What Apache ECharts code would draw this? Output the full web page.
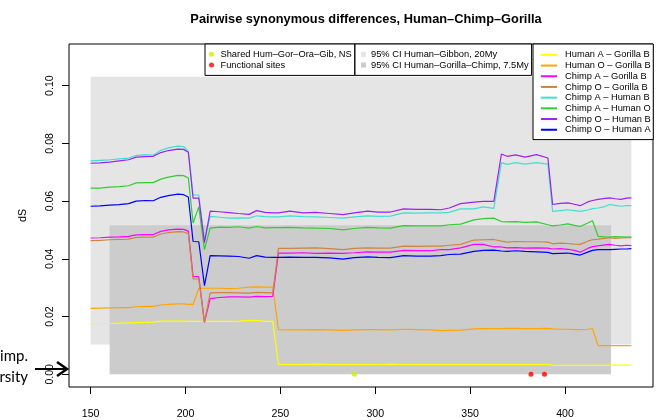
<!DOCTYPE html>
<html><head><meta charset="utf-8">
<script src="https://cdn.jsdelivr.net/npm/echarts@6/dist/echarts.min.js"></script>
<style>html,body{margin:0;padding:0;background:#fff}#c{width:662px;height:420px}</style>
</head><body><div id="c"></div>
<script>
// ---------- data ----------
const xs = [150,155,160,165,170,174,179,183,187,191,196,199,201.5,204,207,210,213,218,223,228,233.5,237.5,242,246,249,255,262,268.5,276,283,289,296,301.5,308,315,322,329,334.5,339,345,352,357,362.5,366.5,369.5,374,379,385,391,393.5,397.5,401.5,405,408,412,414.5,417.5,421,423.5,426.5,429.5,432.5,435];

const humanAGorillaB = [.0175,.0176,.0176,.0177,.0178,.0179,.0180,.0181,.0184,.0184,
  .0184,.0184,.0183,.0183,.0183,.0183,.0183,.0183,.0183,.0184,
  .0187,.0186,.0183,.0184,.0034,.0034,.0034,.0035,.0034,.0034,
  .0034,.0034,.0034,.0035,.0034,.0034,.0034,.0034,.0034,.0034,
  .0034,.0034,.0034,.0034,.0034,.0034,.0034,.0034,.0034,.0032,
  .0031,.0031,.0031,.0031,.0031,.0031,.0031,.0031,.0032,.0032,
  .0032,.0032,.0032];
const humanOGorillaB = [.0228,.0229,.0230,.0231,.0231,.0234,.0235,.0235,.0240,.0242,
  .0244,.0244,.0242,.0242,.0297,.0298,.0298,.0298,.0297,.0298,
  .0302,.0303,.0302,.0302,.0155,.0154,.0154,.0155,.0154,.0152,
  .0154,.0155,.0155,.0154,.0156,.0155,.0154,.0151,.0152,.0153,
  .0157,.0158,.0158,.0158,.0159,.0159,.0158,.0158,.0159,.0157,
  .0156,.0156,.0155,.0155,.0156,.0158,.0099,.0099,.0099,.0099,
  .0099,.0099,.0099];
const chimpAGorillaB = [.0472,.0473,.0475,.0476,.0478,.0483,.0484,.0484,.0495,.0500,
  .0503,.0502,.0496,.0339,.0338,.0180,.0262,.0266,.0268,.0268,
  .0267,.0270,.0269,.0270,.0420,.0420,.0421,.0419,.0420,.0419,
  .0421,.0424,.0423,.0423,.0429,.0428,.0428,.0432,.0432,.0438,
  .0450,.0450,.0441,.0441,.0438,.0439,.0437,.0438,.0437,.0434,
  .0435,.0433,.0429,.0423,.0436,.0442,.0445,.0448,.0450,.0447,
  .0445,.0447,.0446];
const chimpOGorillaB = [.0463,.0464,.0466,.0467,.0468,.0474,.0475,.0475,.0486,.0491,
  .0494,.0493,.0487,.0330,.0330,.0180,.0282,.0283,.0283,.0282,
  .0281,.0284,.0283,.0282,.0436,.0436,.0437,.0438,.0435,.0432,
  .0436,.0438,.0437,.0437,.0444,.0443,.0444,.0444,.0447,.0450,
  .0465,.0466,.0467,.0461,.0458,.0460,.0459,.0459,.0458,.0452,
  .0454,.0453,.0451,.0450,.0461,.0466,.0468,.0471,.0473,.0471,
  .0472,.0473,.0473];
const chimpAHumanB = [.0739,.0741,.0743,.0746,.0749,.0758,.0760,.0759,.0776,.0784,
  .0790,.0789,.0772,.0621,.0621,.0466,.0547,.0544,.0541,.0542,
  .0541,.0549,.0546,.0545,.0545,.0549,.0546,.0545,.0543,.0541,
  .0545,.0549,.0547,.0548,.0559,.0558,.0559,.0559,.0561,.0573,
  .0573,.0580,.0575,.0733,.0727,.0733,.0728,.0733,.0728,.0564,
  .0567,.0570,.0567,.0564,.0569,.0574,.0576,.0581,.0588,.0585,
  .0582,.0584,.0584];
const chimpAHumanO = [.0645,.0645,.0648,.0650,.0653,.0663,.0664,.0664,.0676,.0683,
  .0689,.0688,.0680,.0524,.0580,.0432,.0506,.0510,.0509,.0511,
  .0506,.0512,.0507,.0508,.0508,.0509,.0507,.0506,.0505,.0500,
  .0505,.0509,.0507,.0506,.0515,.0514,.0514,.0514,.0518,.0520,
  .0535,.0539,.0541,.0529,.0528,.0529,.0526,.0528,.0518,.0514,
  .0517,.0521,.0516,.0512,.0524,.0532,.0478,.0476,.0475,.0477,
  .0476,.0475,.0476];
const chimpOHumanB = [.0731,.0732,.0735,.0739,.0743,.0752,.0754,.0755,.0768,.0775,
  .0780,.0779,.0769,.0610,.0610,.0456,.0565,.0563,.0560,.0557,
  .0554,.0567,.0561,.0559,.0559,.0565,.0559,.0561,.0557,.0553,
  .0559,.0565,.0562,.0562,.0573,.0571,.0571,.0570,.0576,.0591,
  .0596,.0599,.0599,.0763,.0755,.0760,.0752,.0761,.0749,.0588,
  .0592,.0594,.0589,.0584,.0597,.0602,.0606,.0609,.0611,.0608,
  .0606,.0610,.0611];
const chimpOHumanA = [.0582,.0583,.0586,.0588,.0591,.0600,.0602,.0601,.0613,.0619,
  .0624,.0622,.0614,.0460,.0459,.0307,.0411,.0410,.0409,.0408,
  .0402,.0411,.0406,.0405,.0405,.0406,.0405,.0405,.0403,.0399,
  .0404,.0407,.0405,.0404,.0411,.0409,.0409,.0411,.0415,.0416,
  .0426,.0429,.0430,.0427,.0426,.0428,.0426,.0424,.0422,.0418,
  .0419,.0420,.0416,.0413,.0423,.0429,.0432,.0432,.0432,.0433,
  .0434,.0434,.0435];

const sharedNS = [[289, 0]];
const functionalSites = [[382.1, 0], [389.2, 0]];
// [xStart, xEnd, yLow, yHigh]
const ciGibbon = [150, 435, 0.0103, 0.1031];
const ciHGC = [160, 424.3, 0, 0.0516];

const xTicks = [150, 200, 250, 300, 350, 400];
const yTicks = [0, 0.02, 0.04, 0.06, 0.08, 0.10];

const lineNames = ['Human A – Gorilla B','Human O – Gorilla B','Chimp A – Gorilla B','Chimp O – Gorilla B',
  'Chimp A – Human B','Chimp A – Human O','Chimp O – Human B','Chimp O – Human A'];
const lineValues = [humanAGorillaB, humanOGorillaB, chimpAGorillaB, chimpOGorillaB,
  chimpAHumanB, chimpAHumanO, chimpOHumanB, chimpOHumanA];
const lineColors = ['#ffff00','#ffa500','#ff00ff','#cd853f','#40e0d0','#32cd32','#a020f0','#0000ff'];

const nsName = 'Shared Hum–Gor–Ora–Gib, NS';
const funcName = 'Functional sites';
const ci1Name = '95% CI Human–Gibbon, 20My';
const ci2Name = '95% CI Human–Gorilla–Chimp, 7.5My';

// ---------- chart ----------
const FONT = "'Liberation Sans', Arial, Helvetica, sans-serif";
const chart = echarts.init(document.getElementById('c'), null, {renderer: 'canvas'});

function rectSeries(name, rect, color, z) {
  return {
    type: 'custom', name: name, z: z, silent: true,
    data: [rect],
    encode: {x: [0, 1], y: [2, 3]},
    renderItem: function (params, api) {
      const p0 = api.coord([api.value(0), api.value(3)]);
      const p1 = api.coord([api.value(1), api.value(2)]);
      return {type: 'rect', shape: {x: p0[0], y: p0[1], width: p1[0] - p0[0], height: p1[1] - p0[1]},
        style: {fill: color}};
    }
  };
}

const series = [
  rectSeries(ci1Name, ciGibbon, '#e5e5e5', 1),
  rectSeries(ci2Name, ciHGC, '#cccccc', 2)
];
lineNames.forEach(function (n, k) {
  series.push({
    type: 'line', name: n, z: 3 + k,
    data: xs.map(function (x, i) { return [x, lineValues[k][i]]; }),
    showSymbol: false, symbol: 'none',
    lineStyle: {color: lineColors[k], width: 1.2},
    itemStyle: {color: lineColors[k]}
  });
});
series.push({type: 'scatter', name: nsName, data: sharedNS, symbolSize: 5, z: 20,
  itemStyle: {color: '#ccf000'}});
series.push({type: 'scatter', name: funcName, data: functionalSites, symbolSize: 5, z: 20,
  itemStyle: {color: '#ff0000'}});

const legText = {fontFamily: FONT, fontSize: 9.3, lineHeight: 10.7, color: '#000'};
const legBase = {orient: 'vertical', itemGap: 0, borderColor: '#000', borderWidth: 1, borderRadius: 0,
  backgroundColor: '#fff', selectedMode: false, z: 30};

const option = {
  animation: false,
  backgroundColor: '#fff',
  title: {
    text: 'Pairwise synonymous differences, Human–Chimp–Gorilla',
    left: 361, top: 8, textAlign: 'center',
    textStyle: {fontFamily: FONT, fontSize: 12.8, fontWeight: 'bold', color: '#000'}
  },
  grid: {left: 69, right: 9, top: 44, bottom: 32.5, show: true, borderColor: '#000', borderWidth: 1,
    backgroundColor: 'transparent'},
  xAxis: {
    type: 'value', min: 138.6, max: 446.4,
    axisLine: {show: false, onZero: false}, splitLine: {show: false},
    axisTick: {show: true, length: 7, lineStyle: {color: '#000'}, customValues: xTicks},
    axisLabel: {customValues: xTicks, margin: 22, fontFamily: FONT, fontSize: 10.6, color: '#000'}
  },
  yAxis: {
    type: 'value', min: -0.0044, max: 0.1144,
    name: 'dS', nameLocation: 'middle', nameGap: 40, nameRotate: 90,
    nameTextStyle: {fontFamily: FONT, fontSize: 10.6, color: '#000'},
    axisLine: {show: false, onZero: false}, splitLine: {show: false},
    axisTick: {show: true, length: 7, lineStyle: {color: '#000'}, customValues: yTicks},
    axisLabel: {customValues: yTicks, rotate: 90, margin: 13.5, fontFamily: FONT, fontSize: 10.6, color: '#000',
      formatter: function (v) { return v.toFixed(2); }}
  },
  legend: [
    Object.assign({}, legBase, {
      left: 205, top: 44, padding: [5, 3, 5, 4], itemWidth: 8, itemHeight: 5,
      data: [{name: nsName, icon: 'circle'}, {name: funcName, icon: 'circle'}],
      textStyle: legText
    }),
    Object.assign({}, legBase, {
      left: 355, top: 44, padding: [5, 3, 5, 6], itemWidth: 5, itemHeight: 5,
      data: [{name: ci1Name, icon: 'rect', itemStyle: {color: '#e5e5e5'}},
             {name: ci2Name, icon: 'rect', itemStyle: {color: '#cccccc'}}],
      textStyle: legText
    }),
    Object.assign({}, legBase, {
      left: 533, top: 44, padding: [5.5, 2.5, 4.5, 7], itemWidth: 16, itemHeight: 2,
      data: lineNames,
      textStyle: Object.assign({}, legText, {padding: [0, 0, 0, 3]})
    })
  ],
  graphic: [
    {type: 'text', x: 28, y: 356, silent: true,
      style: {text: 'Chimp.', textAlign: 'right', textVerticalAlign: 'middle', font: "15px Lato, 'Open Sans', sans-serif", fill: '#000'}},
    {type: 'text', x: 28, y: 377, silent: true,
      style: {text: 'diversity', textAlign: 'right', textVerticalAlign: 'middle', font: "15px Lato, 'Open Sans', sans-serif", fill: '#000'}},
    {type: 'polyline', silent: true, shape: {points: [[35, 369], [66, 369]]}, style: {stroke: '#000', lineWidth: 2}},
    {type: 'polyline', silent: true, shape: {points: [[57, 362], [67, 369], [57, 376]]},
      style: {stroke: '#000', lineWidth: 2.5, fill: null}}
  ],
  series: series
};
chart.setOption(option);
</script>
</body></html>
